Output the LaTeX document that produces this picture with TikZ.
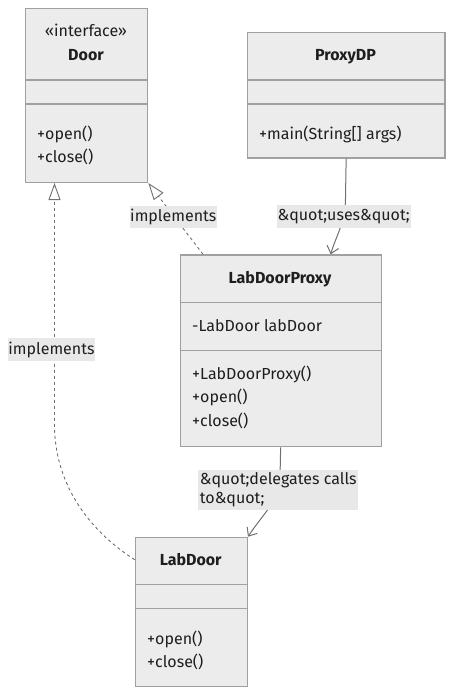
\documentclass[tikz,border=0pt]{standalone}
\usepackage{fontspec}
\setmainfont{Fira Sans}
\usetikzlibrary{arrows.meta,calc}
\definecolor{boxfill}{HTML}{ECECEC}
\definecolor{boxline}{HTML}{A0A0A0}
\definecolor{edgecol}{HTML}{707070}
\definecolor{lblbg}{HTML}{E8E8E8}
\definecolor{txt}{HTML}{1E1E1E}
\begin{document}
\begin{tikzpicture}[x=1pt,y=-1pt,
  umlbox/.style={draw=boxline,fill=boxfill,line width=1.3pt,anchor=north west,inner sep=0pt},
  txtnode/.style={anchor=base west,inner sep=0pt,text=txt,font=\fontsize{16pt}{18pt}\selectfont},
  ttlnode/.style={anchor=base,inner sep=0pt,text=txt,font=\fontsize{16pt}{18pt}\selectfont\bfseries},
  divline/.style={draw=boxline,line width=1.3pt},
  lbl/.style={fill=lblbg,inner sep=0pt,text=txt,font=\fontsize{16pt}{19pt}\selectfont},
  solidedge/.style={draw=edgecol,line width=1pt,-{Straight Barb[length=7pt,width=12pt,line width=1pt]}},
  realize/.style={draw=edgecol,line width=0.9pt,dash pattern=on 3pt off 3pt,-{Triangle[fill=white,length=17pt,width=12pt,line width=0.9pt]}}
]
\useasboundingbox (0,0) rectangle (453,695);
\fill[white] (0,0) rectangle (453,695);

% Door
\node[umlbox,minimum width=122pt,minimum height=173.7pt] (door) at (25,8) {};
\draw[divline] (door.west |- 0,80) -- (door.east |- 0,80);
\draw[divline] (door.west |- 0,104) -- (door.east |- 0,104);
\node[anchor=base,inner sep=0pt,text=txt,font=\fontsize{16pt}{18pt}\selectfont] (dst) at (86,37) {«interface»};
\node[ttlnode] (dt) at (86,61) {Door};
\node[txtnode] (do) at (37,140) {+open()};
\node[txtnode] (dc) at (37,163) {+close()};

% ProxyDP
\node[umlbox,minimum width=197.6pt,minimum height=125.6pt] (pd) at (246.7,31.7) {};
\draw[divline] (pd.west |- 0,80) -- (pd.east |- 0,80);
\draw[divline] (pd.west |- 0,104) -- (pd.east |- 0,104);
\node[ttlnode] (pdt) at (345.5,61) {ProxyDP};
\node[txtnode] (pdm) at (259,139.5) {+main(String[] args)};

% LabDoorProxy
\node[umlbox,minimum width=201pt,minimum height=191.7pt] (lp) at (179.5,254.3) {};
\draw[divline] (lp.west |- 0,302.7) -- (lp.east |- 0,302.7);
\draw[divline] (lp.west |- 0,350.3) -- (lp.east |- 0,350.3);
\node[ttlnode] (lpt) at (280,283) {LabDoorProxy};
\node[txtnode] (lpa) at (192,331) {-LabDoor labDoor};
\node[txtnode] (lpc) at (192,379) {+LabDoorProxy()};
\node[txtnode] (lpo) at (192,402.5) {+open()};
\node[txtnode] (lpx) at (192,426) {+close()};

% LabDoor
\node[umlbox,minimum width=112pt,minimum height=149.3pt] (ld) at (134.7,536.7) {};
\draw[divline] (ld.west |- 0,584.3) -- (ld.east |- 0,584.3);
\draw[divline] (ld.west |- 0,608.3) -- (ld.east |- 0,608.3);
\node[ttlnode] (ldt) at (190.7,565) {LabDoor};
\node[txtnode] (ldo) at (147,644) {+open()};
\node[txtnode] (ldc) at (147,667) {+close()};

% anchor points
\coordinate (doorA) at ($(door.south west)+(29.5,0)$);
\coordinate (lpIn) at ($(lp.north)+(50,0)$);
\coordinate (lpOut) at ($(lp.north west)+(23.5,0)$);
\coordinate (ldOut) at ($(ld.north west)+(0,23)$);

% edges
\draw[solidedge] (pd.south) -- (345.5,198) .. controls (345.5,222) and (336,236) .. (lpIn);
\draw[solidedge] (lp.south) -- (280,478) .. controls (280,500) and (262,515) .. (ld.north east);
\draw[realize] (lpOut) -- (door.south east);
\draw[realize] (ldOut) .. controls (85,528) and (54.5,480) .. (54.5,425) -- (doorA);

% labels
\node[lbl,minimum width=134pt,minimum height=23pt] (luses) at (343.7,216.3) {\&quot;uses\&quot;};
\node[lbl,minimum width=87pt,minimum height=22pt] (limp1) at (173.3,216.7) {implements};
\node[lbl,minimum width=87pt,minimum height=23pt] (limp2) at (51.5,349.5) {implements};
\node[lbl,minimum width=160pt,minimum height=40pt,align=left] (ldel) at (278.3,490) {\&quot;delegates calls\\to\&quot;};
\end{tikzpicture}
\end{document}
